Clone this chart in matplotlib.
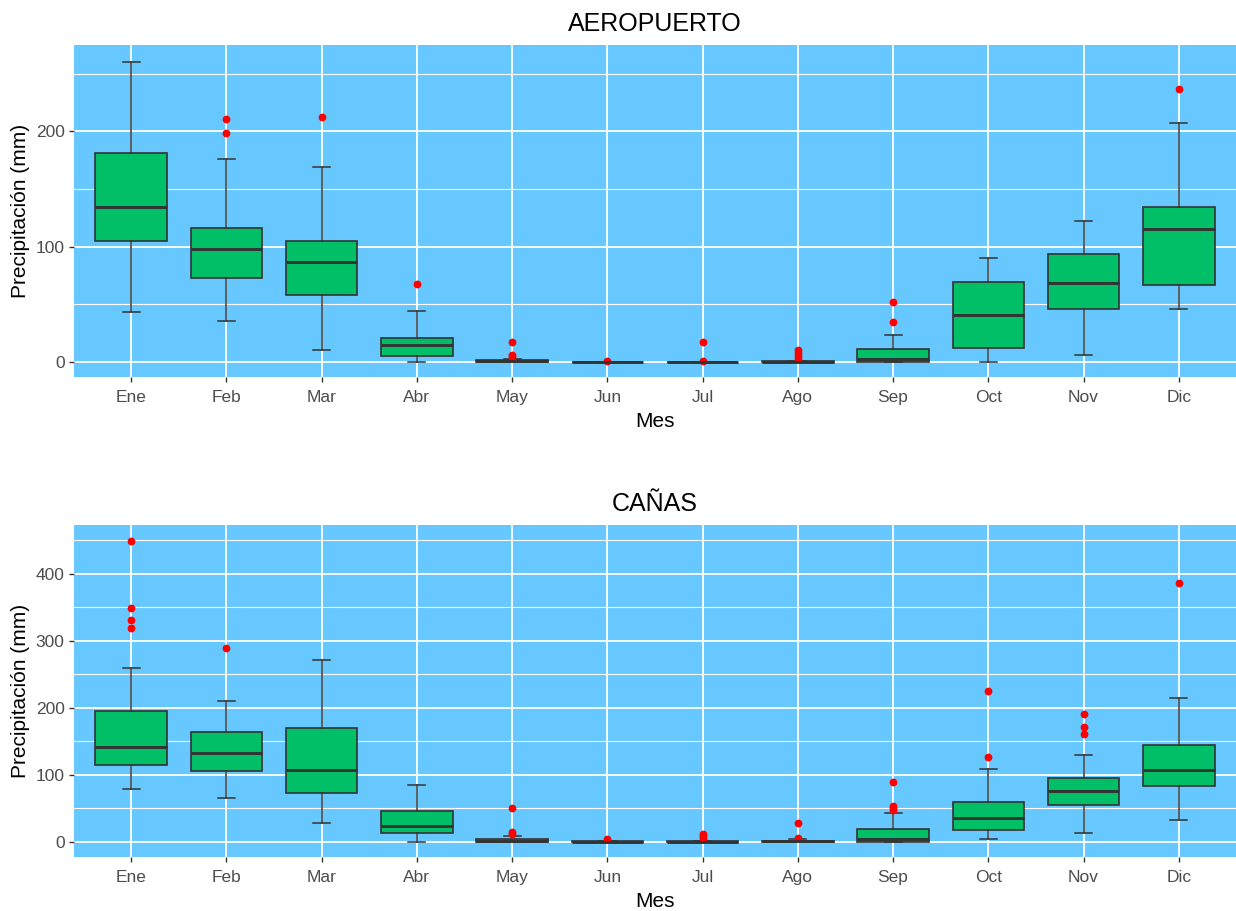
import matplotlib
matplotlib.use("Agg")
import matplotlib.pyplot as plt
from matplotlib.ticker import MultipleLocator

plt.rcParams['font.family'] = ['Liberation Sans', 'DejaVu Sans']

meses = ["Ene", "Feb", "Mar", "Abr", "May", "Jun", "Jul", "Ago", "Sep", "Oct", "Nov", "Dic"]

# AEROPUERTO: monthly precipitation box statistics (mm)
aero_whislo = [42.9, 35.6, 9.9, 0.0, 0.0, 0.0, 0.0, 0.0, 0.0, 0.0, 6.1, 45.5]
aero_q1 = [105.0, 72.9, 57.9, 4.7, 0.0, 0.0, 0.0, 0.0, 0.0, 12.2, 45.5, 66.6]
aero_med = [134.0, 98.1, 86.8, 14.2, 0.3, 0.0, 0.0, 0.0, 2.6, 40.3, 68.3, 115.5]
aero_q3 = [181.4, 115.8, 105.0, 20.8, 1.0, 0.0, 0.0, 0.3, 11.0, 68.9, 93.5, 134.3]
aero_whishi = [260.4, 176.2, 169.0, 44.3, 2.0, 0.0, 0.0, 0.5, 23.4, 90.0, 122.1, 207.2]
aero_out = [[], [211.0, 198.5], [212.2], [67.7], [17.0, 6.0, 4.0], [0.5],
            [17.0, 0.5], [2.5, 5.0, 7.5, 10.0], [51.8, 34.5], [], [], [237.0]]

# CAÑAS: monthly precipitation box statistics (mm)
canas_whislo = [78.3, 65.3, 27.4, 0.0, 0.0, 0.0, 0.0, 0.0, 0.0, 4.0, 12.5, 31.9]
canas_q1 = [114.7, 106.2, 72.3, 12.5, 0.0, 0.0, 0.0, 0.0, 0.0, 17.0, 54.8, 82.8]
canas_med = [142.1, 132.6, 107.2, 23.9, 1.5, 0.0, 0.0, 0.5, 4.0, 34.9, 75.3, 107.2]
canas_q3 = [195.5, 163.1, 170.0, 46.4, 4.0, 0.5, 0.5, 1.5, 18.7, 59.3, 95.2, 144.6]
canas_whishi = [259.3, 210.4, 271.8, 85.3, 8.5, 1.0, 1.0, 4.0, 42.4, 108.2, 129.6, 214.4]
canas_out = [[448.8, 348.5, 331.6, 318.6], [288.7], [], [], [50.9, 14.0, 12.0],
             [4.0], [12.0, 9.0, 6.0], [27.4, 5.0], [89.3, 53.0, 50.0, 47.0],
             [225.4, 125.7], [191.0, 170.5, 161.1], [386.9]]

PANEL_BG = "#66C8FF"
BOX_FILL = "#00BF66"
EDGE = "#333333"


def make_stats(whislo, q1, med, q3, whishi, fliers):
    return [dict(whislo=a, q1=b, med=c, q3=d, whishi=e, fliers=f, label=m)
            for a, b, c, d, e, f, m in zip(whislo, q1, med, q3, whishi, fliers, meses)]


def draw_panel(ax, stats, title, ymax, major, minor):
    ax.set_facecolor(PANEL_BG)
    for s in ax.spines.values():
        s.set_visible(False)
    pos = list(range(1, len(meses) + 1))
    ax.bxp(stats, positions=pos, widths=0.75, capwidths=0.18, patch_artist=True,
           boxprops=dict(facecolor=BOX_FILL, edgecolor=EDGE, linewidth=1.2),
           medianprops=dict(color=EDGE, linewidth=2.1, solid_capstyle='butt'),
           whiskerprops=dict(color=EDGE, linewidth=1.1),
           capprops=dict(color=EDGE, linewidth=1.1),
           flierprops=dict(marker='o', markerfacecolor='red', markeredgecolor='red',
                           markersize=4.6, linestyle='none'),
           zorder=3)
    ax.set_xlim(0.4, 12.6)
    ax.set_ylim(-0.05 * ymax, ymax * 1.05)
    ax.set_xticks(pos)
    ax.set_xticklabels(meses)
    ax.yaxis.set_major_locator(MultipleLocator(major))
    ax.yaxis.set_minor_locator(MultipleLocator(minor))
    ax.grid(True, which='major', color='white', linewidth=1.3, zorder=0)
    ax.grid(True, which='minor', axis='y', color='white', linewidth=0.8, zorder=0)
    ax.set_axisbelow(True)
    ax.tick_params(axis='both', which='major', length=3.8, width=1.0, color=EDGE,
                   labelsize=12.5, labelcolor='#4D4D4D')
    ax.tick_params(axis='x', which='major', pad=6)
    ax.tick_params(axis='y', which='major', pad=3)
    ax.tick_params(axis='y', which='minor', length=0)
    ax.set_title(title, fontsize=18, color='black', pad=10)
    ax.set_xlabel("Mes", fontsize=15, labelpad=5)
    ax.set_ylabel("Precipitación (mm)", fontsize=15, labelpad=4)


fig = plt.figure(figsize=(12.36, 9.11), dpi=100)
ax1 = fig.add_axes([74 / 1236, 1 - 376.7 / 911, 1162 / 1236, 331.7 / 911])
ax2 = fig.add_axes([74 / 1236, 1 - 856.7 / 911, 1162 / 1236, 331.4 / 911])

draw_panel(ax1, make_stats(aero_whislo, aero_q1, aero_med, aero_q3, aero_whishi, aero_out),
           "AEROPUERTO", 262, 100, 50)
draw_panel(ax2, make_stats(canas_whislo, canas_q1, canas_med, canas_q3, canas_whishi, canas_out),
           "CAÑAS", 450, 100, 50)

fig.savefig("out.png", dpi=100)
